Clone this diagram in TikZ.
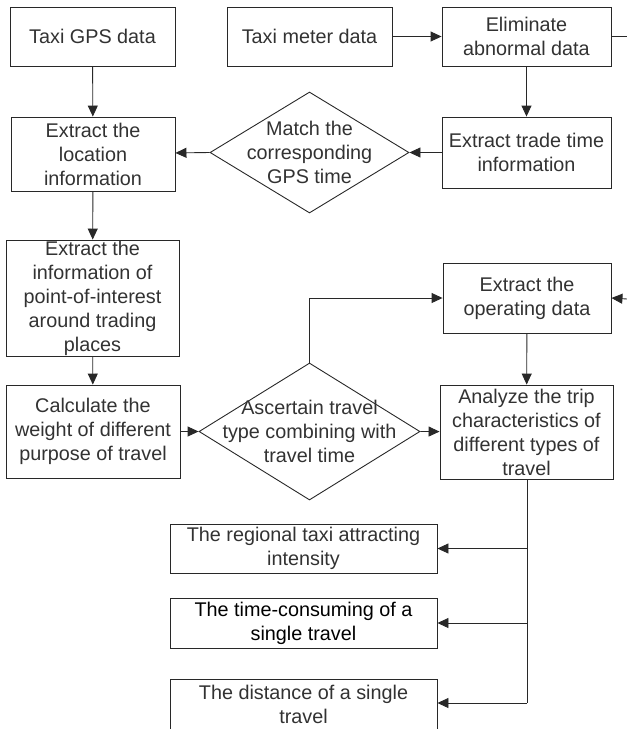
\documentclass[tikz,border=0pt]{standalone}
\usepackage{fontspec}
\setmainfont{Liberation Sans}
\usetikzlibrary{arrows.meta,shapes.geometric}
\definecolor{ink}{RGB}{50,50,50}
\definecolor{edge}{RGB}{40,40,40}
\begin{document}
\begin{tikzpicture}[x=1pt,y=-1pt,
  every node/.style={font=\fontsize{19.8}{24}\selectfont, text=ink, align=center, inner sep=0pt},
  box/.style={draw=edge, line width=0.9pt, rectangle},
  dia/.style={draw=edge, line width=0.9pt, diamond},
  link/.style={draw=edge, line width=0.9pt},
  arr/.style={link, -{Triangle[length=11pt,width=10pt]}}]
\useasboundingbox (0,0) rectangle (627,729);

% top row
\node[box, minimum width=165, minimum height=59] (gps) at (92.5,36.5) {Taxi GPS data};
\node[box, minimum width=165, minimum height=59] (meter) at (309.5,36.5) {Taxi meter data};
\node[box, minimum width=169, minimum height=59] (elim) at (526.5,36.5) {Eliminate\\abnormal data};

% second row
\node[box, minimum width=164, minimum height=74] (loc) at (93,154) {Extract the\\location\\information};
\node[dia, minimum width=199, minimum height=121] (match) at (309.5,152.5) {};
\node at (match) {Match the\\corresponding\\GPS time};
\node[box, minimum width=169, minimum height=71] (trade) at (526.5,152.5) {Extract trade time\\information};

% point-of-interest and operating data
\node[box, minimum width=173, minimum height=116] (poi) at (92.5,298) {Extract the\\information of\\point-of-interest\\around trading\\places};
\node[box, minimum width=168, minimum height=70] (oper) at (527,298) {Extract the\\operating data};

% third row
\node[box, minimum width=174, minimum height=93] (calc) at (93,431.5) {Calculate the\\weight of different\\purpose of travel};
\node[dia, minimum width=221, minimum height=137] (asc) at (309.5,431.5) {};
\node at (asc) {Ascertain travel\\type combining with\\travel time};
\node[box, minimum width=173, minimum height=94] (anal) at (526.5,432) {Analyze the trip\\characteristics of\\different types of\\travel};

% results
\node[box, minimum width=267, minimum height=49] (out1) at (303.5,548.5) {The regional taxi attracting\\intensity};
\node[box, minimum width=267, minimum height=50, text=black] (out2) at (303.5,623) {The time-consuming of a\\single travel};
\node[box, minimum width=267, minimum height=50] (out3) at (303.5,704) {The distance of a single\\travel};

% loose ends at the right border
\coordinate (elimout) at (627,36.5);
\coordinate (operin) at (627,299);
\coordinate (ascup) at (309.5,298);
\coordinate (trunk) at (527,703);

% connectors
\draw[arr] (gps) -- (loc);
\draw[arr] (meter) -- (elim);
\draw[link] (elim.east) -- (elimout);
\draw[arr] (elim) -- (trade);
\draw[arr] (trade) -- (match.east);
\draw[arr] (match.west) -- (loc);
\draw[arr] (loc) -- (poi);
\draw[arr] (poi) -- (calc);
\draw[arr] (calc) -- (asc.west);
\draw[arr] (asc.east) -- (anal);
\draw[arr] (asc.north) -- (ascup) -- (oper.west);
\draw[arr] (operin) -- (oper.east);
\draw[arr] (oper) -- (anal);
\draw[link] (anal.south -| trunk) -- (trunk);
\draw[arr] (out1.east -| trunk) -- (out1.east);
\draw[arr] (out2.east -| trunk) -- (out2.east);
\draw[arr] (trunk) -- (out3.east |- trunk);
\end{tikzpicture}
\end{document}
